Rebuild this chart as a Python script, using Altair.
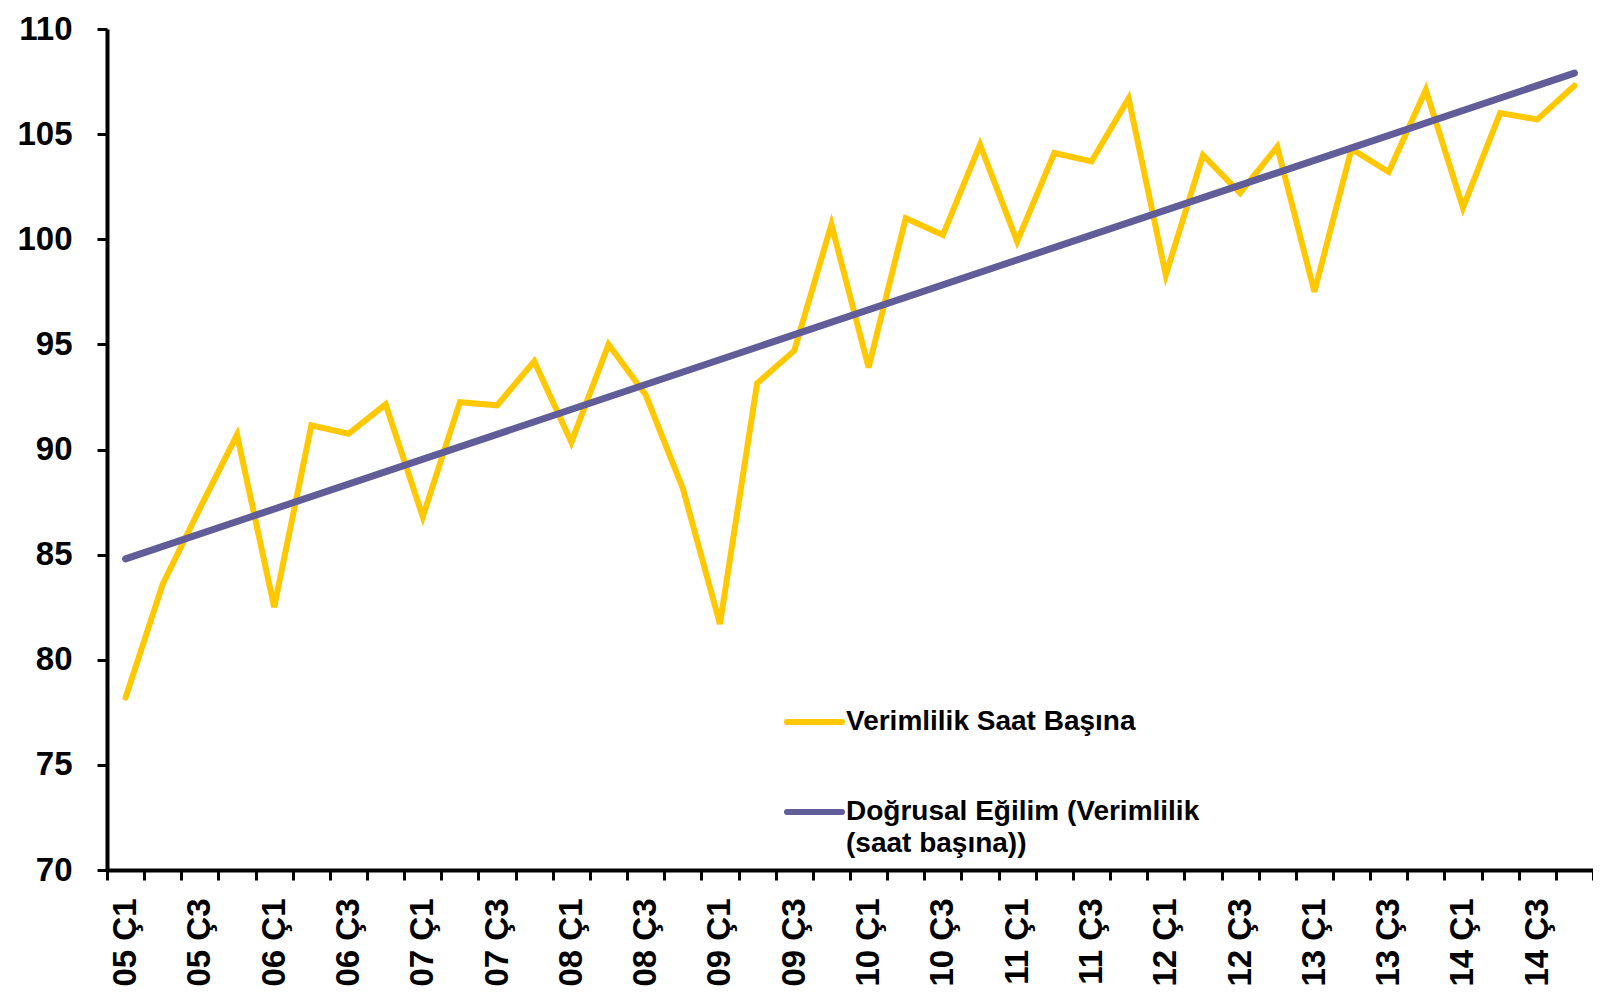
import altair as alt
import pandas as pd

# ---- data ----
years = ["05", "06", "07", "08", "09", "10", "11", "12", "13", "14"]
quarters = [f"{y} Ç{q}" for y in years for q in (1, 2, 3, 4)]

productivity = [
    78.2, 83.6, 87.2, 90.7, 82.5, 91.15, 90.75, 92.15, 86.8, 92.25,
    92.1, 94.2, 90.35, 95.0, 92.6, 88.15, 81.7, 93.15, 94.7, 100.7,
    93.9, 101.0, 100.2, 104.5, 99.9, 104.1, 103.7, 106.7, 98.3, 104.0,
    102.2, 104.4, 97.5, 104.3, 103.2, 107.1, 101.5, 106.0, 105.7, 107.3,
]
trend_quarters = ["05 Ç1", "14 Ç4"]
trend_values = [84.8, 107.9]

series_names = ["Verimlilik Saat Başına", "Doğrusal Eğilim (Verimlilik\n(saat başına))"]
series_colors = ["#FFC800", "#615D99"]
y_ticks = [70, 75, 80, 85, 90, 95, 100, 105, 110]

main_df = pd.DataFrame({"q": quarters, "v": productivity})
trend_df = pd.DataFrame({"q": trend_quarters, "v": trend_values})

FONT = "Liberation Sans"
TOP = 21
W, H = 1486, 862 - TOP

x_enc = alt.X(
    "q:N",
    sort=quarters,
    bandPosition=0.5,
    scale=alt.Scale(type="band", domain=quarters, paddingInner=0, paddingOuter=0),
    axis=alt.Axis(
        title=None,
        tickBand="extent",
        tickSize=10,
        tickWidth=3,
        tickColor="black",
        domainWidth=4,
        domainColor="black",
        labelAngle=270,
        labelFont=FONT,
        labelFontSize=33,
        labelFontWeight="bold",
        labelColor="black",
        labelPadding=18,
        labelOverlap=False,
        labelExpr="(indexof(datum.label, 'Ç1') >= 0 || indexof(datum.label, 'Ç3') >= 0) ? datum.label : ''",
    ),
)
y_enc = alt.Y(
    "v:Q",
    scale=alt.Scale(domain=[70, 110], nice=False, zero=False),
    axis=alt.Axis(
        title=None,
        values=y_ticks,
        grid=False,
        tickSize=10,
        tickWidth=3,
        tickColor="black",
        domainWidth=4,
        domainColor="black",
        labelFont=FONT,
        labelFontSize=33,
        labelFontWeight="bold",
        labelColor="black",
        labelPadding=25,
    ),
)

main_line = alt.Chart(main_df).mark_line(
    color=series_colors[0], strokeWidth=6, strokeJoin="miter", strokeCap="round"
).encode(x=x_enc, y=y_enc)

trend_line = alt.Chart(trend_df).mark_line(
    color=series_colors[1], strokeWidth=7, strokeCap="round"
).encode(x=x_enc, y=y_enc)

# ---- legend (inside the plot, as in the reference) ----
legend_layers = []
legend_y = [714 - TOP, 804 - TOP]
for name, col, ly in zip(series_names, series_colors, legend_y):
    ldf = pd.DataFrame({"label": [name]})
    legend_layers.append(
        alt.Chart(ldf).mark_rule(color=col, strokeWidth=6, strokeCap="round").encode(
            x=alt.value(680), x2=alt.value(735), y=alt.value(ly)
        )
    )
    legend_layers.append(
        alt.Chart(ldf).mark_text(
            align="left", baseline="middle", font=FONT, fontSize=28,
            fontWeight="bold", color="black", lineBreak="\n", lineHeight=32,
        ).encode(x=alt.value(739), y=alt.value(ly), text="label:N")
    )

chart = alt.layer(main_line, trend_line, *legend_layers).properties(
    width=W,
    height=H,
    autosize=alt.AutoSizeParams(type="none"),
    padding={"left": 99, "top": TOP, "right": 0, "bottom": 118},
).configure(background="white").configure_view(stroke=None)

chart.save("out.html", embed_options={"renderer": "svg", "actions": False})
